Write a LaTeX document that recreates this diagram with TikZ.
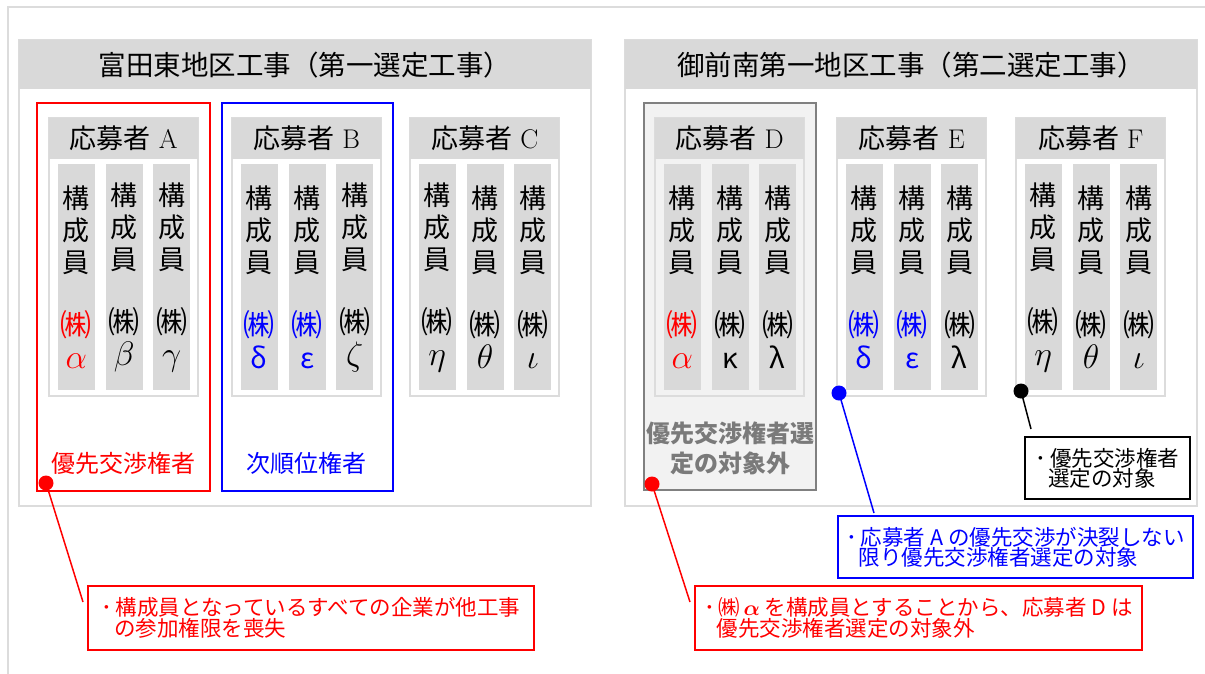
\RequirePackage{fix-cm}
\documentclass[tikz,border=0pt]{standalone}
\usepackage{fontspec}
\newfontfamily\jp{Noto Sans CJK JP}
\definecolor{lg}{HTML}{D9D9D9}
\definecolor{frm}{HTML}{DCDCDC}
\definecolor{dfill}{HTML}{F2F2F2}
\definecolor{dline}{HTML}{808080}
\definecolor{dtext}{HTML}{7A7A7A}
\newcommand\kb{{\fontsize{31}{32}\selectfont ㈱}}
\newcommand\gm[1]{{\fontsize{34}{32}\selectfont$#1$}}
\newcommand\gj[1]{{\fontsize{28}{32}\selectfont #1}}
\newcommand\appbox[6]{%
  \draw[boxfr] (#2,118) rectangle ++(149,278);
  \node[ttl, anchor=north west] (t#1) at (#2,118) {{\jp 応募者} #3};
  \node[colbox, anchor=north west, xshift=8.5] (c#1a) at (#2,164) {構\\成\\員\\[32pt]#4};
  \node[colbox, anchor=north west, xshift=56.5] (c#1b) at (#2,164) {構\\成\\員\\[32pt]#5};
  \node[colbox, anchor=north west, xshift=104] (c#1c) at (#2,164) {構\\成\\員\\[32pt]#6};
}
\tikzset{
  grp/.style={draw=frm, line width=1.5pt},
  hdr/.style={fill=lg, minimum width=572, minimum height=49, inner sep=0,
    font=\jp\fontsize{27.5}{30}\selectfont},
  boxfr/.style={draw=frm, line width=1.5pt},
  ttl/.style={fill=lg, minimum width=149, minimum height=41, inner sep=0,
    font=\fontsize{27}{30}\selectfont},
  colbox/.style={fill=lg, minimum width=37, minimum height=226, inner sep=0,
    align=center, font=\jp\fontsize{27}{32}\selectfont},
  lbl/.style={font=\jp\fontsize{24}{30}\selectfont, align=center},
  dot/.style={circle, inner sep=0, minimum size=15},
  callout/.style={align=left, inner sep=0, line width=1.5pt,
    font=\jp\fontsize{21.5}{20}\selectfont},
  conn/.style={line width=1.5pt}
}
\begin{document}
\begin{tikzpicture}[x=1pt,y=-1pt]
\path[use as bounding box, fill=white] (0,0) rectangle (1205,673);
\draw[frm, line width=2pt] (8,690) -- (8,7) -- (1220,7);

% groups
\draw[grp] (19,40) rectangle (591,506);
\node[hdr, anchor=north west] (h1) at (19,40) {富田東地区工事（第一選定工事）};
\draw[grp] (625,40) rectangle (1197,506);
\node[hdr, anchor=north west] (h2) at (625,40) {御前南第一地区工事（第二選定工事）};

% highlight frames
\draw[red, line width=2pt] (37,103) rectangle (210,491);
\draw[blue, line width=2pt] (222,103) rectangle (393,491);
\draw[fill=dfill, draw=dline, line width=1.5pt] (644,103) rectangle (816,490);

% applicants
\appbox{A}{49}{A}{\textcolor{red}{\kb}\\\textcolor{red}{\gm{\alpha}}}{\kb\\\gm{\beta}}{\kb\\\gm{\gamma}}
\appbox{B}{232}{B}{\textcolor{blue}{\kb}\\\textcolor{blue}{\gj{δ}}}{\textcolor{blue}{\kb}\\\textcolor{blue}{\gj{ε}}}{\kb\\\gm{\zeta}}
\appbox{C}{410}{C}{\kb\\\gm{\eta}}{\kb\\\gm{\theta}}{\kb\\\gm{\iota}}
\appbox{D}{655}{D}{\textcolor{red}{\kb}\\\textcolor{red}{\gm{\alpha}}}{\kb\\\gj{κ}}{\kb\\\gj{λ}}
\appbox{E}{837}{E}{\textcolor{blue}{\kb}\\\textcolor{blue}{\gj{δ}}}{\textcolor{blue}{\kb}\\\textcolor{blue}{\gj{ε}}}{\kb\\\gj{λ}}
\appbox{F}{1016}{F}{\kb\\\gm{\eta}}{\kb\\\gm{\theta}}{\kb\\\gm{\iota}}

% labels
\node[lbl, text=red] (lA) at (123.5,463) {優先交渉権者};
\node[lbl, text=blue] (lB) at (306,463) {次順位権者};
\node[lbl, text=dtext, font=\jp\bfseries\fontsize{24}{30}\selectfont] (lD) at (730,448) {優先交渉権者選\\定の対象外};

% dots
\node[dot, fill=red] (dA) at (46,483) {};
\node[dot, fill=red] (dD) at (652,484) {};
\node[dot, fill=blue] (dE) at (839,393) {};
\node[dot, fill=black] (dF) at (1021,391) {};

% callouts
\node[callout, draw=red, text=red, minimum width=446, minimum height=64] (cA) at (311,618)
  {･\,構成員となっているすべての企業が他工事\\\hspace*{12.5pt}の参加権限を喪失};
\node[callout, draw=red, text=red, minimum width=447, minimum height=64] (cD) at (918.5,618)
  {･\,㈱\,{\boldmath$\alpha$} を構成員とすることから、応募者 D は\\\hspace*{12.5pt}優先交渉権者選定の対象外};
\node[callout, draw=blue, text=blue, minimum width=355, minimum height=62] (cE) at (1015.5,547)
  {･\,応募者 A の優先交渉が決裂しない\\\hspace*{12.5pt}限り優先交渉権者選定の対象};
\node[callout, draw=black, text=black, minimum width=165, minimum height=62] (cF) at (1107.5,468)
  {･\,優先交渉権者\\\hspace*{12.5pt}選定の対象};

% connectors
\coordinate (eA) at (83,602);
\coordinate (eD) at (690,602);
\coordinate (eE) at (874,513);
\coordinate (eF) at (1031,429);
\draw[conn, red] (dA.center) -- (eA);
\draw[conn, red] (dD.center) -- (eD);
\draw[conn, blue] (dE.center) -- (eE);
\draw[conn, black] (dF.center) -- (eF);
\end{tikzpicture}
\end{document}
